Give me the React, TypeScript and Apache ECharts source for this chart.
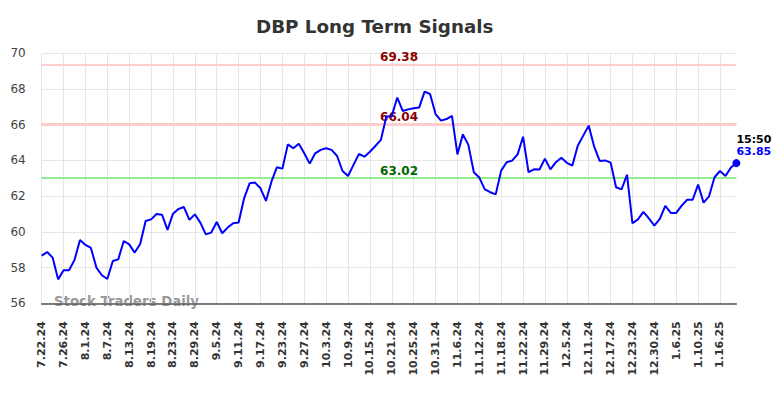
import React, { useEffect, useRef } from "react";
import * as echarts from "echarts";

const dates: string[] = [
  "7.22.24","7.23.24","7.24.24","7.25.24","7.26.24","7.29.24","7.30.24","7.31.24",
  "8.1.24","8.2.24","8.5.24","8.6.24","8.7.24","8.8.24","8.9.24","8.12.24","8.13.24","8.14.24","8.15.24","8.16.24",
  "8.19.24","8.20.24","8.21.24","8.22.24","8.23.24","8.26.24","8.27.24","8.28.24","8.29.24","8.30.24",
  "9.3.24","9.4.24","9.5.24","9.6.24","9.9.24","9.10.24","9.11.24","9.12.24","9.13.24","9.16.24","9.17.24",
  "9.18.24","9.19.24","9.20.24","9.23.24","9.24.24","9.25.24","9.26.24","9.27.24","9.30.24",
  "10.1.24","10.2.24","10.3.24","10.4.24","10.7.24","10.8.24","10.9.24","10.10.24","10.11.24","10.14.24",
  "10.15.24","10.16.24","10.17.24","10.18.24","10.21.24","10.22.24","10.23.24","10.24.24","10.25.24",
  "10.28.24","10.29.24","10.30.24","10.31.24",
  "11.1.24","11.4.24","11.5.24","11.6.24","11.7.24","11.8.24","11.11.24","11.12.24","11.13.24","11.14.24",
  "11.15.24","11.18.24","11.19.24","11.20.24","11.21.24","11.22.24","11.25.24","11.26.24","11.27.24","11.29.24",
  "12.2.24","12.3.24","12.4.24","12.5.24","12.6.24","12.9.24","12.10.24","12.11.24","12.12.24","12.13.24",
  "12.16.24","12.17.24","12.18.24","12.19.24","12.20.24","12.23.24","12.24.24","12.26.24","12.27.24",
  "12.30.24","12.31.24",
  "1.2.25","1.3.25","1.6.25","1.7.25","1.8.25","1.9.25","1.10.25","1.13.25","1.14.25","1.15.25","1.16.25",
  "1.17.25","1.21.25","1.22.25",
];

const prices: number[] = [
  58.67, 58.87, 58.56, 57.34, 57.85, 57.85, 58.43, 59.55, 59.27, 59.10,
  58.00, 57.57, 57.36, 58.37, 58.46, 59.49, 59.30, 58.84, 59.32, 60.61,
  60.70, 61.00, 60.96, 60.11, 61.02, 61.28, 61.39, 60.67, 60.98, 60.52,
  59.86, 59.96, 60.55, 59.92, 60.24, 60.48, 60.52, 61.88, 62.72, 62.76,
  62.44, 61.73, 62.81, 63.62, 63.54, 64.90, 64.68, 64.94, 64.40, 63.82,
  64.40, 64.59, 64.68, 64.59, 64.25, 63.41, 63.13, 63.75, 64.36, 64.21,
  64.49, 64.81, 65.15, 66.45, 66.49, 67.52, 66.77, 66.86, 66.92, 66.96,
  67.85, 67.72, 66.60, 66.23, 66.32, 66.49, 64.34, 65.46, 64.87, 63.34,
  63.04, 62.38, 62.22, 62.10, 63.43, 63.90, 63.99, 64.34, 65.33, 63.34,
  63.50, 63.49, 64.10, 63.50, 63.90, 64.15, 63.87, 63.71, 64.82, 65.39,
  65.95, 64.77, 63.97, 64.00, 63.88, 62.50, 62.38, 63.20, 60.48, 60.70,
  61.12, 60.75, 60.35, 60.73, 61.45, 61.06, 61.06, 61.47, 61.80, 61.80,
  62.65, 61.64, 61.99, 63.06, 63.41, 63.13, 63.60, 63.85,
];

const signalLevels: number[] = [69.38, 66.04, 63.02];
const signalColors: string[] = ["#ffcccc", "#ffcccc", "#90ee90"];
const signalLabelColors: string[] = ["#8b0000", "#8b0000", "#006400"];
const signalWidths: number[] = [2, 3, 2];

const yTicks: number[] = [56, 58, 60, 62, 64, 66, 68, 70];
const lastTime = "15:50";

const FONT = "DejaVu Sans";

export default function App() {
  const ref = useRef<HTMLDivElement>(null);
  useEffect(() => {
    if (!ref.current) return;
    const chart = echarts.init(ref.current, undefined, { renderer: "svg" });
    const lastIdx = prices.length - 1;
    const lastVal = prices[lastIdx];
    chart.setOption({
      animation: false,
      textStyle: { fontFamily: FONT },
      title: {
        text: "DBP Long Term Signals",
        left: 251,
        top: 12,
        textStyle: { fontFamily: FONT, fontSize: 18.3, fontWeight: "bold", color: "#333333" },
      },
      graphic: [
        {
          type: "text",
          left: 54,
          top: 295,
          z: 0,
          style: {
            text: "Stock Traders Daily",
            fill: "#999999",
            font: `bold 13.3px "${FONT}"`,
          },
        },
      ],
      grid: { left: 41.7, right: 47.6, top: 53.3, bottom: 94.7, containLabel: false },
      xAxis: {
        type: "category",
        data: dates,
        boundaryGap: false,
        axisLine: { show: true, lineStyle: { color: "#555555", width: 1.5 } },
        axisTick: { show: false },
        axisLabel: {
          interval: 3,
          rotate: 90,
          margin: 18,
          fontFamily: FONT,
          fontSize: 11,
          fontWeight: "bold",
          color: "#333333",
        },
        splitLine: { show: true, interval: 3, lineStyle: { color: "#e6e6e6", width: 1 } },
      },
      yAxis: {
        type: "value",
        min: yTicks[0],
        max: yTicks[yTicks.length - 1],
        interval: 2,
        axisLine: { show: false },
        axisTick: { show: false },
        axisLabel: { fontFamily: FONT, fontSize: 12, color: "#444444", margin: 16 },
        splitLine: { show: true, lineStyle: { color: "#e6e6e6", width: 1 } },
      },
      series: [
        {
          type: "line",
          data: prices,
          showSymbol: false,
          symbol: "none",
          lineStyle: { color: "#0000ff", width: 2 },
          z: 3,
          markLine: {
            silent: true,
            symbol: "none",
            z: 2,
            data: signalLevels.map((v, i) => ({
              yAxis: v,
              lineStyle: { color: signalColors[i], width: signalWidths[i], type: "solid" },
              label: {
                show: true,
                position: "middle",
                distance: 1,
                formatter: v.toFixed(2),
                color: signalLabelColors[i],
                fontFamily: FONT,
                fontSize: 12,
                fontWeight: "bold",
                padding: [0, 0, 0, 20],
              },
            })),
          },
          markPoint: {
            silent: true,
            data: [
              {
                coord: [lastIdx, lastVal],
                symbol: "circle",
                symbolSize: 8,
                itemStyle: { color: "#0000ff" },
                label: {
                  show: true,
                  position: [4, -26],
                  align: "left",
                  verticalAlign: "top",
                  formatter: `{t|${lastTime}}\n{v|${lastVal.toFixed(2)}}`,
                  rich: {
                    t: { fontFamily: FONT, fontSize: 11, fontWeight: "bold", color: "#000000", lineHeight: 12 },
                    v: { fontFamily: FONT, fontSize: 11, fontWeight: "bold", color: "#0000ff", lineHeight: 12 },
                  },
                },
              },
            ],
          },
        },
      ],
    });
    return () => chart.dispose();
  }, []);
  return (
    <div
      ref={ref}
      style={{ position: "fixed", left: 0, top: 0, width: 784, height: 398, background: "#ffffff" }}
    />
  );
}
